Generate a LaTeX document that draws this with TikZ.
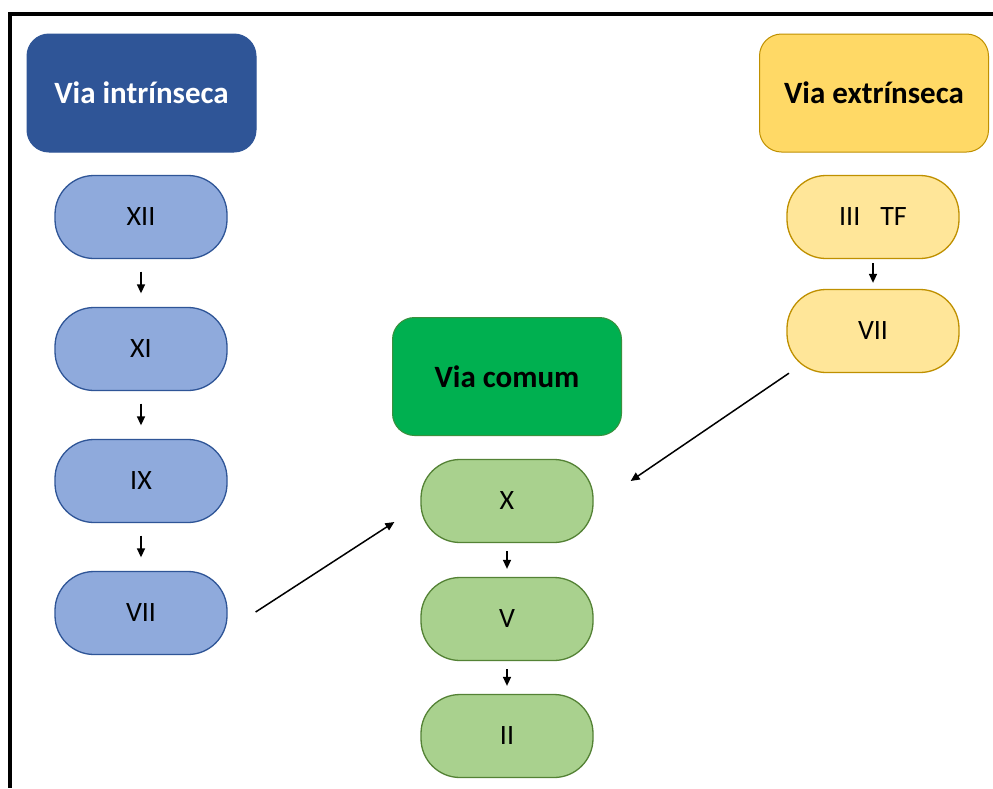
\documentclass[tikz,border=0pt]{standalone}
\usepackage{fontspec}
\setmainfont{Carlito}
\usetikzlibrary{arrows.meta}
\definecolor{hdblue}{HTML}{2F5597}
\definecolor{lblue}{HTML}{8FAADC}
\definecolor{bblue}{HTML}{2F5597}
\definecolor{hdgreen}{HTML}{00B050}
\definecolor{lgreen}{HTML}{A9D18E}
\definecolor{bgreen}{HTML}{548235}
\definecolor{hdyellow}{HTML}{FFD966}
\definecolor{lyellow}{HTML}{FFE699}
\definecolor{byellow}{HTML}{BF9000}
\tikzset{
  header/.style={rounded corners=22pt, minimum width=229pt, minimum height=118pt, line width=1pt, font=\fontsize{31}{36}\selectfont\bfseries, inner sep=0pt},
  stepbox/.style={rounded corners=39pt, minimum width=172pt, minimum height=83pt, line width=1.3pt, font=\fontsize{28}{32}\selectfont, inner sep=0pt},
  arr/.style={line width=1.5pt, -{Triangle[length=9pt,width=8pt]}},
}
\begin{document}
\begin{tikzpicture}[x=1pt,y=-1pt]
\useasboundingbox (0,0) rectangle (993,788);
\fill[white] (0,0) rectangle (993,788);
% frame
\draw[line width=4pt] (993,14) -- (10,14) -- (10,788);
% headers
\node[header, fill=hdblue, draw=hdblue, text=white] (hi) at (141.5,93) {Via intrínseca};
\node[header, fill=hdgreen, draw=bgreen!70!hdgreen, text=black] (hc) at (507,376.5) {Via comum};
\node[header, fill=hdyellow, draw=byellow, text=black] (he) at (874,93) {Via extrínseca};
% intrinsic
\node[stepbox, fill=lblue, draw=bblue] (i1) at (141,217) {XII};
\node[stepbox, fill=lblue, draw=bblue] (i2) at (141,349) {XI};
\node[stepbox, fill=lblue, draw=bblue] (i3) at (141,481) {IX};
\node[stepbox, fill=lblue, draw=bblue] (i4) at (141,613) {VII};
% common
\node[stepbox, fill=lgreen, draw=bgreen] (c1) at (507,501) {X};
\node[stepbox, fill=lgreen, draw=bgreen] (c2) at (507,619) {V};
\node[stepbox, fill=lgreen, draw=bgreen] (c3) at (507,736) {II};
% extrinsic
\node[stepbox, fill=lyellow, draw=byellow] (e1) at (873,217) {III\hspace{20pt}TF};
\node[stepbox, fill=lyellow, draw=byellow] (e2) at (873,331) {VII};
% short arrows
\draw[arr] ([yshift=-12.5pt]i1.south) -- ([yshift=13.5pt]i2.north);
\draw[arr] ([yshift=-12.5pt]i2.south) -- ([yshift=13.5pt]i3.north);
\draw[arr] ([yshift=-12.5pt]i3.south) -- ([yshift=13.5pt]i4.north);
\draw[arr] ([yshift=-8pt]c1.south) -- ([yshift=8pt]c2.north);
\draw[arr] ([yshift=-8pt]c2.south) -- ([yshift=8pt]c3.north);
\draw[arr] ([yshift=-4pt]e1.south) -- ([yshift=6pt]e2.north);
% long arrows
\coordinate (a1s) at ([xshift=28pt,yshift=1pt]i4.east);
\coordinate (a1e) at ([xshift=-26pt,yshift=-21pt]c1.west);
\draw[arr] (a1s) -- (a1e);
\coordinate (a2s) at ([xshift=-84pt,yshift=0pt]e2.south);
\coordinate (a2e) at ([xshift=37pt,yshift=20pt]c1.east);
\draw[arr] (a2s) -- (a2e);
\end{tikzpicture}
\end{document}
